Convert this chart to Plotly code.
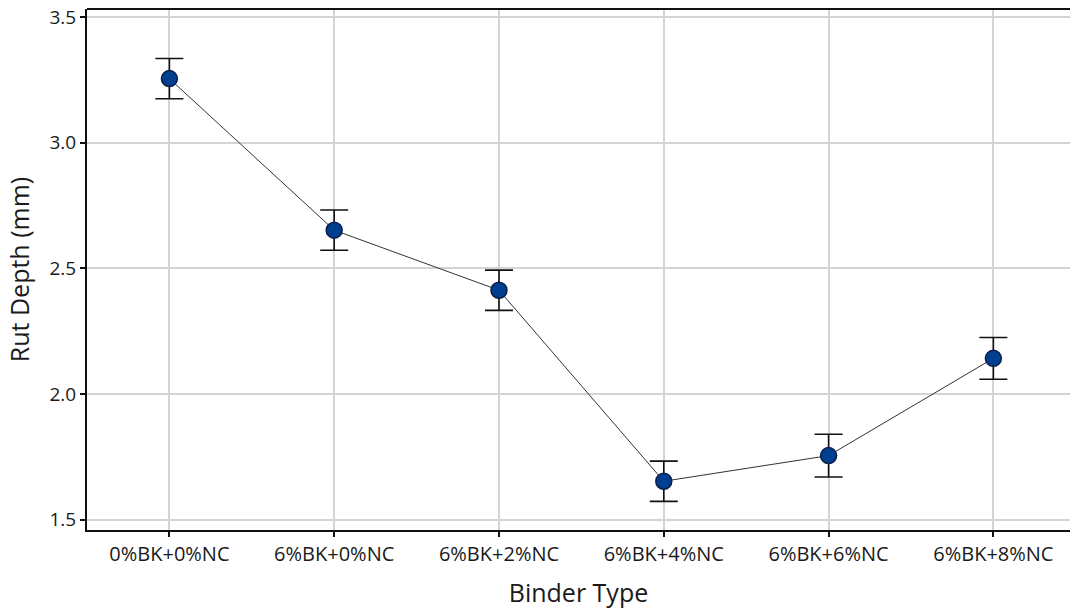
import plotly.graph_objects as go

binder_types = ["0%BK+0%NC", "6%BK+0%NC", "6%BK+2%NC", "6%BK+4%NC", "6%BK+6%NC", "6%BK+8%NC"]
rut_depth = [3.255, 2.652, 2.413, 1.653, 1.755, 2.142]
rut_error = [0.080, 0.080, 0.080, 0.080, 0.085, 0.083]

fig = go.Figure()
fig.add_trace(go.Scatter(
    x=list(range(len(binder_types))),
    y=rut_depth,
    mode="lines+markers",
    line=dict(color="#333333", width=1),
    marker=dict(size=16, color="#003f8f", line=dict(color="#0a1f4a", width=1.5)),
    error_y=dict(type="data", array=rut_error, visible=True,
                 color="#111111", thickness=1.6, width=14),
    showlegend=False,
))

font_family = "Open Sans, Noto Sans, DejaVu Sans, sans-serif"
fig.update_layout(
    width=1070, height=609,
    margin=dict(l=87, r=0, t=9, b=79),
    paper_bgcolor="white", plot_bgcolor="white",
    font=dict(family=font_family, color="#1a1a1a"),
    xaxis=dict(
        range=[-0.5, 5.465],
        tickvals=list(range(len(binder_types))),
        ticktext=binder_types,
        tickfont=dict(size=20),
        showgrid=True, gridcolor="#d4d4d4", gridwidth=1.5,
        showline=True, linecolor="#111111", linewidth=2, mirror=False,
        ticks="outside", ticklen=5, tickcolor="#111111", tickwidth=1.5,
        zeroline=False, automargin=False,
        title=dict(text="Binder Type", font=dict(size=25), standoff=18),
    ),
    yaxis=dict(
        range=[1.459, 3.532],
        tickvals=[1.5, 2.0, 2.5, 3.0, 3.5],
        ticktext=["1.5", "2.0", "2.5", "3.0", "3.5"],
        tickfont=dict(size=19),
        showgrid=True, gridcolor="#d4d4d4", gridwidth=1.5,
        showline=True, linecolor="#111111", linewidth=2,
        ticks="outside", ticklen=5, tickcolor="#111111", tickwidth=1.5,
        zeroline=False, automargin=False,
        title=dict(text="Rut Depth (mm)", font=dict(size=25), standoff=13),
    ),
)
# top border of the plot frame
fig.add_shape(type="line", xref="paper", yref="paper", x0=0, x1=1, y0=1, y1=1,
              line=dict(color="#111111", width=2))

fig.write_html("out.html")
